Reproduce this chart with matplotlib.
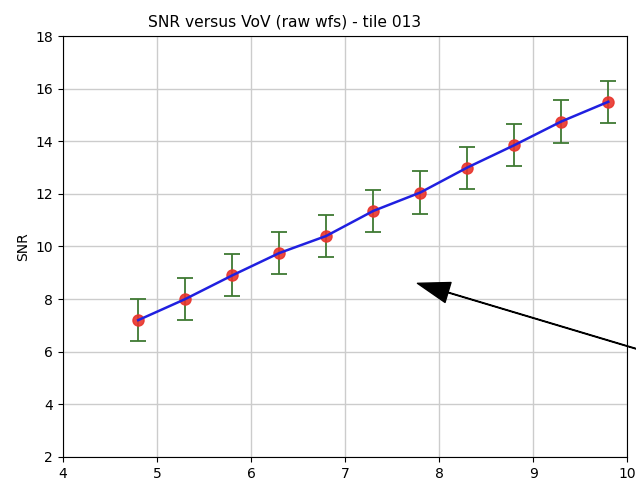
import numpy as np
import matplotlib
matplotlib.use("Agg")
import matplotlib.pyplot as plt

# VoV bins and measured SNR for tile 013
vov = [4.8, 5.3, 5.8, 6.3, 6.8, 7.3, 7.8, 8.3, 8.8, 9.3, 9.8]
snr = [7.2, 8.0, 8.9, 9.75, 10.4, 11.35, 12.05, 13.0, 13.85, 14.75, 15.5]
snr_err = [0.8, 0.8, 0.8, 0.8, 0.8, 0.8, 0.8, 0.8, 0.8, 0.8, 0.8]

fig = plt.figure(figsize=(6.36, 4.8), dpi=100)
ax = fig.add_axes([0.099, 0.048, 0.887, 0.877])

ax.errorbar(vov, snr, yerr=snr_err, fmt='none', ecolor='#3f7a33', elinewidth=1.3,
            capsize=6, capthick=1.3, zorder=2)
ax.plot(vov, snr, 'o', color='#e8342c', markersize=8, alpha=0.9, zorder=3)
ax.plot(vov, snr, '-', color='#2020e0', linewidth=1.8, zorder=4)

ax.annotate('', xy=(7.77, 8.6), xytext=(10.5, 5.68),
            arrowprops=dict(facecolor='black', edgecolor='black', width=0.4,
                            headwidth=15, headlength=23),
            annotation_clip=False)

ax.set_xlim(4, 10)
ax.set_ylim(2, 18)
ax.set_xticks(range(4, 11))
ax.set_yticks(range(2, 19, 2))
ax.grid(True, color='#cccccc', linewidth=1)
ax.set_axisbelow(True)
ax.tick_params(labelsize=10)
ax.set_ylabel('SNR', fontsize=10)

fig.text(0.447, 0.954, 'SNR versus VoV (raw wfs) - tile 013', ha='center', va='center',
         fontsize=11.2)

fig.savefig('out.png', dpi=100)
